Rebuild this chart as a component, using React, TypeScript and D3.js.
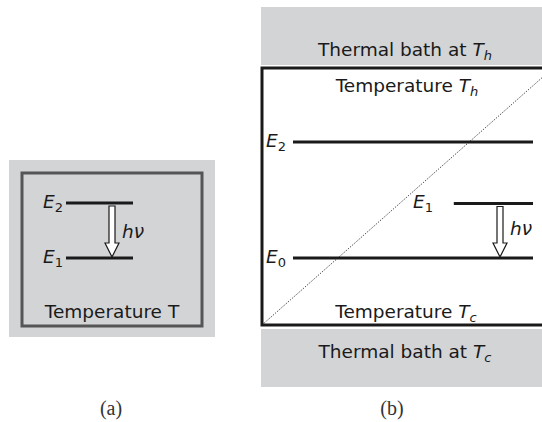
import React from 'react';
import * as d3 from 'd3';

// energy levels (relative units) for each panel
const levelsA = [
  { name: '2', value: 1 },
  { name: '1', value: 0 },
];
const levelsB = [
  { name: '2', value: 1, from: 0, labelX: 'left' },
  { name: '1', value: 0.47, from: 0.67, labelX: 'mid' },
  { name: '0', value: 0, from: 0, labelX: 'left' },
];
const panelLabels = ['(a)', '(b)'];
const bathLabels = ['h', 'c'];

const W = 542;
const H = 422;
const FS = 18.5;
const sans = 'DejaVu Sans, sans-serif';
const gray = '#d3d4d6';
const ink = '#1a1a1a';

function Sub({ base, sub, italicSub }: { base: string; sub: string; italicSub?: boolean }) {
  return (
    <>
      <tspan fontStyle="italic">{base}</tspan>
      <tspan fontSize={13} dy={4} fontStyle={italicSub ? 'italic' : 'normal'}>{sub}</tspan>
    </>
  );
}

function arrowPath(x: number, y0: number, y1: number) {
  const sw = 3, hw = 7, hl = 14;
  const p = d3.path();
  p.moveTo(x - sw, y0);
  p.lineTo(x + sw, y0);
  p.lineTo(x + sw, y1 - hl);
  p.lineTo(x + hw, y1 - hl);
  p.lineTo(x, y1);
  p.lineTo(x - hw, y1 - hl);
  p.lineTo(x - sw, y1 - hl);
  p.closePath();
  return p.toString();
}

export default function App() {
  // panel (a)
  const yA = d3.scaleLinear().domain([0, 1]).range([258, 203]);
  const xA = d3.scaleLinear().domain([0, 1]).range([66, 133]);
  // panel (b)
  const yB = d3.scaleLinear().domain([0, 1]).range([258, 142]);
  const xB = d3.scaleLinear().domain([0, 1]).range([293, 533]);
  const box = { x0: 262, x1: 553, y0: 68, y1: 325 };

  return (
    <svg width={W} height={H} style={{ position: 'absolute', left: 0, top: 0 }} fontFamily={sans} fill={ink}>
      <rect width={W} height={H} fill="#fff" />

      {/* (a) */}
      <rect x={9} y={160} width={206} height={177} fill={gray} />
      <rect x={22} y={173} width={180} height={153} fill="none" stroke="#555" strokeWidth={3} />
      {levelsA.map(l => (
        <g key={l.name}>
          <line x1={xA(0)} x2={xA(1)} y1={yA(l.value)} y2={yA(l.value)} stroke={ink} strokeWidth={3} />
          <text x={43} y={yA(l.value) + 5} fontSize={FS}><Sub base="E" sub={l.name} /></text>
        </g>
      ))}
      <path d={arrowPath(112, yA(1) + 3, yA(0) - 1)} fill="#fff" stroke={ink} strokeWidth={1.2} />
      <text x={122} y={238} fontSize={FS} fontStyle="italic">hν</text>
      <text x={112} y={318} fontSize={FS} textAnchor="middle">Temperature T</text>

      {/* (b) */}
      <rect x={261} y={7} width={W - 261} height={58} fill={gray} />
      <rect x={261} y={329} width={W - 261} height={58} fill={gray} />
      <text x={405} y={56} fontSize={FS} textAnchor="middle">
        Thermal bath at <Sub base="T" sub={bathLabels[0]} italicSub />
      </text>
      <text x={405} y={358} fontSize={FS} textAnchor="middle">
        Thermal bath at <Sub base="T" sub={bathLabels[1]} italicSub />
      </text>
      <rect x={box.x0} y={box.y0} width={box.x1 - box.x0} height={box.y1 - box.y0} fill="#fff" stroke={ink} strokeWidth={3} />
      <line x1={box.x0} y1={box.y1} x2={box.x1} y2={box.y0} stroke={ink} strokeWidth={1} strokeDasharray="1 1.5" />
      <text x={407} y={92} fontSize={FS} textAnchor="middle">
        Temperature <Sub base="T" sub={bathLabels[0]} italicSub />
      </text>
      <text x={406} y={318} fontSize={FS} textAnchor="middle">
        Temperature <Sub base="T" sub={bathLabels[1]} italicSub />
      </text>
      {levelsB.map(l => (
        <g key={l.name}>
          <line x1={xB(l.from)} x2={xB(1)} y1={yB(l.value)} y2={yB(l.value)} stroke={ink} strokeWidth={3} />
          <text x={l.labelX === 'left' ? 266 : 413} y={yB(l.value) + 5} fontSize={FS}><Sub base="E" sub={l.name} /></text>
        </g>
      ))}
      <path d={arrowPath(500, yB(0.47) + 3, yB(0) - 1)} fill="#fff" stroke={ink} strokeWidth={1.2} />
      <text x={510} y={235} fontSize={FS} fontStyle="italic">hν</text>

      {panelLabels.map((t, i) => (
        <text key={t} x={i === 0 ? 111 : 392} y={415} fontSize={20} textAnchor="middle" fontFamily="Liberation Serif, serif" fill="#333">{t}</text>
      ))}
    </svg>
  );
}
